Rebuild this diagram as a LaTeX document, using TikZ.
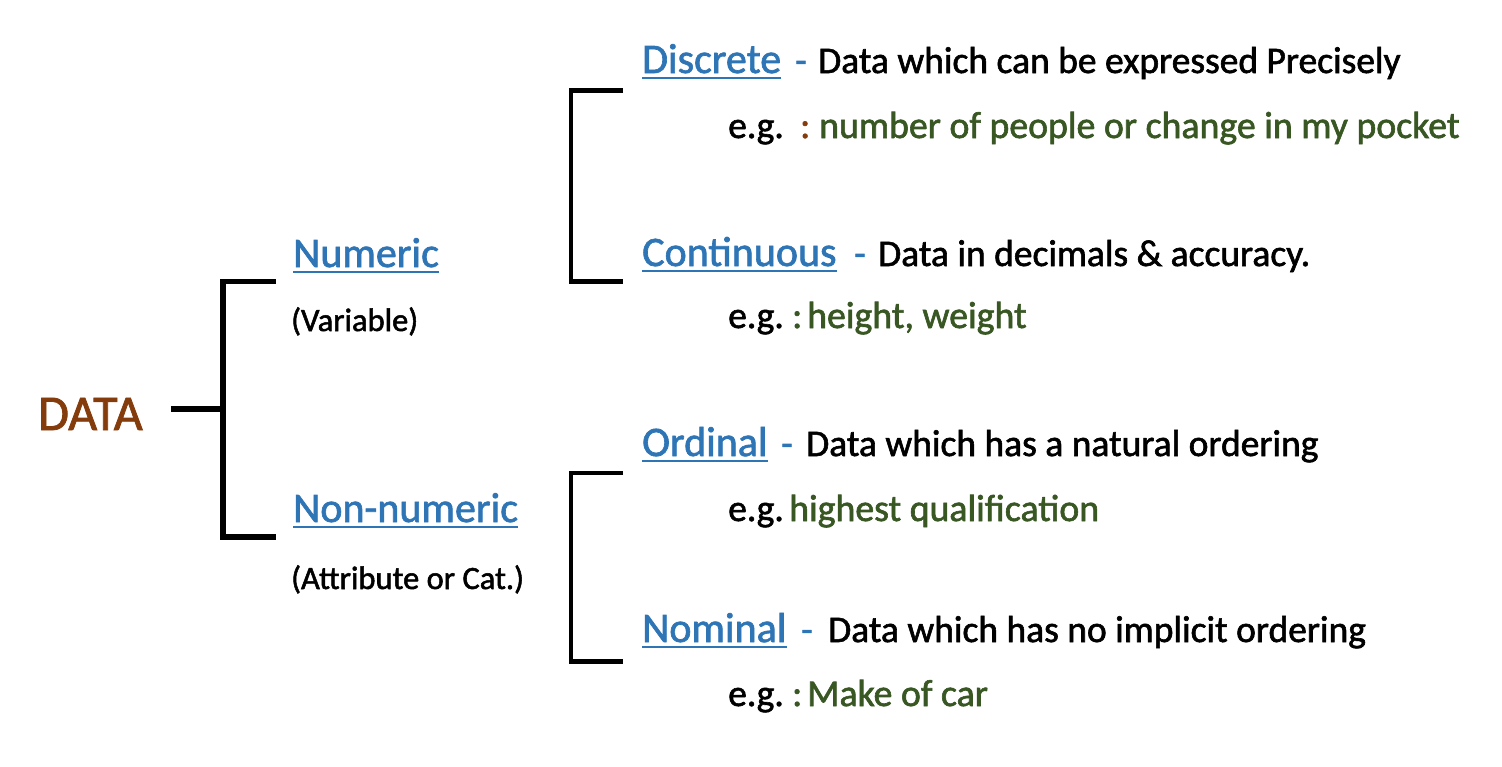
\documentclass[tikz,border=0pt]{standalone}
\usepackage{fontspec}
\setmainfont{Carlito}[RawFeature={embolden=1.6}]
\definecolor{hblue}{HTML}{2E75B6}
\definecolor{egreen}{HTML}{385723}
\definecolor{dbrown}{HTML}{843C0C}
\begin{document}
\begin{tikzpicture}[x=1pt,y=-1pt,
  every node/.style={inner sep=0pt, anchor=base west},
  rootlbl/.style={font=\fontsize{50}{60}\selectfont, text=dbrown},
  headlbl/.style={font=\fontsize{42}{50}\selectfont, text=hblue},
  desclbl/.style={font=\fontsize{37.5}{45}\selectfont, text=black},
  dashlbl/.style={font=\fontsize{37.5}{45}\selectfont, text=hblue},
  eglbl/.style={font=\fontsize{37.5}{45}\selectfont, text=black},
  exlbl/.style={font=\fontsize{37.8}{45}\selectfont, text=egreen},
  parenlbl/.style={font=\fontsize{32.5}{39}\selectfont, text=black},
  ul/.style={draw=hblue, line width=1.8pt},
  bigbracket/.style={draw=black, line width=5.5pt},
  smallbracket/.style={draw=black, line width=4.5pt}]
\useasboundingbox (0,0) rectangle (1502,766);

% root
\node[rootlbl] (data) at (38,430) {DATA};
\coordinate (dataR) at (171,409);
\coordinate (bj) at (223,409);
\coordinate (bt) at (223,281.5);
\coordinate (bb) at (223,537);
\coordinate (btR) at (276,281.5);
\coordinate (bbR) at (276,537);
\draw[bigbracket] (dataR) -- (bj);
\draw[bigbracket] (btR) -- (bt) -- (bb) -- (bbR);

% level 1
\node[headlbl] (num) at (293,267) {Numeric};
\node[parenlbl] (var) at (291,331) {(Variable)};
\node[headlbl] (non) at (293,522) {Non-numeric};
\node[parenlbl] (attr) at (291,589) {(Attribute or Cat.)};
\draw[ul] ([yshift=-5pt]num.base west) -- ([yshift=-5pt]num.base east);
\draw[ul] ([yshift=-5pt]non.base west) -- ([yshift=-5pt]non.base east);

% right brackets
\coordinate (u1) at (571,90.5);
\coordinate (u2) at (571,281.5);
\coordinate (u1R) at (623,90.5);
\coordinate (u2R) at (623,281.5);
\draw[smallbracket] (u1R) -- (u1) -- (u2) -- (u2R);
\coordinate (l1) at (571,473);
\coordinate (l2) at (571,661.5);
\coordinate (l1R) at (623,473);
\coordinate (l2R) at (623,661.5);
\draw[smallbracket] (l1R) -- (l1) -- (l2) -- (l2R);

% Discrete
\node[headlbl] (disc) at (642,73) {Discrete};
\draw[ul] ([yshift=-5pt]disc.base west) -- ([yshift=-5pt]disc.base east);
\node[dashlbl] (discdash) at (795,73) {-};
\node[desclbl] (discdesc) at (818,73) {Data which can be expressed Precisely};
\node[eglbl] (discEg) at (728,138) {e.g.};
\node[eglbl, text=dbrown] (discCol) at (800,138) {:};
\node[exlbl] (discEx) at (819,138) {number of people or change in my pocket};

% Continuous
\node[headlbl] (cont) at (642,266) {Continuous};
\draw[ul] ([yshift=-5pt]cont.base west) -- ([yshift=-5pt]cont.base east);
\node[dashlbl] (contdash) at (854,266) {-};
\node[desclbl] (contdesc) at (878,266) {Data in decimals \& accuracy.};
\node[eglbl] (contEg) at (728,328) {e.g.};
\node[eglbl, text=egreen] (contCol) at (792,328) {:};
\node[exlbl] (contEx) at (807,328) {height, weight};

% Ordinal
\node[headlbl] (ord) at (642,456) {Ordinal};
\draw[ul] ([yshift=-5pt]ord.base west) -- ([yshift=-5pt]ord.base east);
\node[dashlbl] (orddash) at (781,456) {-};
\node[desclbl] (orddesc) at (806,456) {Data which has a natural ordering};
\node[eglbl] (ordEg) at (728,521) {e.g.};
\node[exlbl] (ordEx) at (789,521) {highest qualification};

% Nominal
\node[headlbl] (nom) at (642,642) {Nominal};
\draw[ul] ([yshift=-5pt]nom.base west) -- ([yshift=-5pt]nom.base east);
\node[dashlbl] (nomdash) at (801,642) {-};
\node[desclbl] (nomdesc) at (828,642) {Data which has no implicit ordering};
\node[eglbl] (nomEg) at (728,706) {e.g.};
\node[eglbl, text=egreen] (nomCol) at (792,706) {:};
\node[exlbl] (nomEx) at (807,706) {Make of car};
\end{tikzpicture}
\end{document}
